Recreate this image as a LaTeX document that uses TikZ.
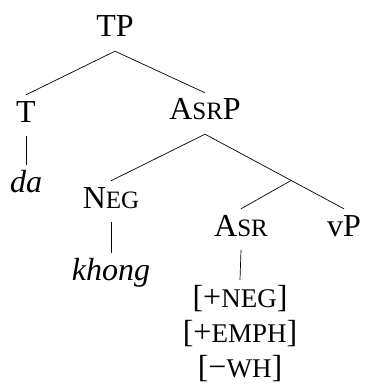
\documentclass[tikz,border=0pt]{standalone}
\usepackage{fontspec}
\setmainfont{Liberation Serif}
\usetikzlibrary{calc, positioning}

% fake small capitals (the font has none)
\newcommand{\smcap}[1]{{\fontsize{25}{27}\selectfont\uppercase{#1}}}
\newcommand{\featcap}[1]{{\fontsize{27}{29}\selectfont\uppercase{#1}}}

\begin{document}
\begin{tikzpicture}[x=1pt, y=-1pt,
  label/.style={font=\fontsize{32}{38}\selectfont, anchor=base,
    inner xsep=0pt, inner ysep=6pt, text height=21pt, text depth=8pt},
  word/.style={label, font=\fontsize{32}{38}\selectfont\itshape},
  branch/.style={line width=0.7pt, black}]
\useasboundingbox (0,0) rectangle (366,385);

% Nodes, placed at their baselines
\node[label] (TP) at (115,37) {TP};
\node[label] (T) at (26,122) {T};
\node[word] (da) at (26,192) {da};
\node[label] (AsrP) at (205,120) {A\smcap{sr}P};
\node[label] (Neg) at (111,208) {N\smcap{eg}};
\node[word] (khong) at (111,280) {khong};
\node[label] (Asr) at (241,236) {A\smcap{sr}};
\node[label] (vP) at (344,236) {vP};

% Feature matrix
\node[label] (featneg) at (240,307) {[+\featcap{neg}]};
\node[label] (featemph) at (240,342) {[+\featcap{emph}]};
\node[label] (featwh) at (240,377) {[−\featcap{wh}]};

% Unlabelled bar level
\coordinate (Bar) at ($(AsrP.south)!0.62!(vP.north)$);

% Branches
\draw[branch] (T.north) -- (TP.south) -- (AsrP.north);
\draw[branch] (T.south) -- (da.north);
\draw[branch] (Neg.north) -- (AsrP.south) -- (vP.north);
\draw[branch] (Bar) -- (Asr.north);
\draw[branch] (Neg.south) -- (khong.north);
\draw[branch] (Asr.south) -- (featneg.north);
\end{tikzpicture}
\end{document}
